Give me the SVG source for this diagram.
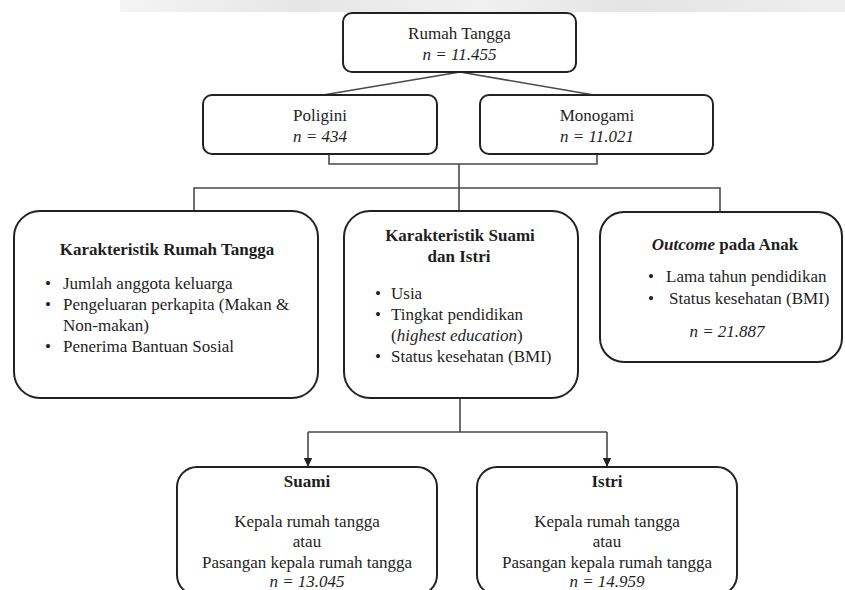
<svg xmlns="http://www.w3.org/2000/svg" width="845" height="590" viewBox="0 0 845 590">
<defs>
  <linearGradient id="strip" x1="0" y1="0" x2="1" y2="0">
    <stop offset="0" stop-color="#f4f4f4"/>
    <stop offset="0.25" stop-color="#e6e6e6"/>
    <stop offset="0.5" stop-color="#f0f0f0"/>
    <stop offset="0.7" stop-color="#e4e4e4"/>
    <stop offset="1" stop-color="#eeeeee"/>
  </linearGradient>
  <marker id="arrow" markerWidth="10" markerHeight="10" refX="9" refY="5" orient="auto" markerUnits="userSpaceOnUse">
    <path d="M0,0.8 L9,5 L0,9.2 Z" fill="#222222"/>
  </marker>
</defs>
<rect x="0" y="0" width="845" height="590" fill="#ffffff"/>
<rect x="120" y="0" width="725" height="12" fill="url(#strip)"/>

<g id="connectors" fill="none" stroke="#4a4a4a" stroke-width="1.6">
  <path d="M460,72 L323,95"/>
  <path d="M460,72 L594,95"/>
  <path d="M329,154 L329,164 L597,164 L597,154"/>
  <path d="M459,164 L459,211"/>
  <path d="M194,211 L194,188 L720,188 L720,211"/>
  <path d="M460,398 L460,432"/>
  <path d="M308,432 L607,432"/>
  <path d="M308,432 L308,467" marker-end="url(#arrow)"/>
  <path d="M607,432 L607,467" marker-end="url(#arrow)"/>
</g>

<g id="rumah-tangga" fill="#1e1e1e" font-family="Liberation Serif" font-size="17">
  <rect x="343" y="13" width="233" height="59" rx="9" fill="#ffffff" stroke="#222222" stroke-width="2"/>
  <text font-family="Liberation Serif" text-anchor="middle" x="459.5" y="38.5">Rumah Tangga</text>
  <text font-family="Liberation Serif" text-anchor="middle" font-style="italic" x="459.5" y="60">n = 11.455</text>
</g>

<g id="poligini" fill="#1e1e1e" font-family="Liberation Serif" font-size="17">
  <rect x="203" y="95" width="234" height="59" rx="9" fill="#ffffff" stroke="#222222" stroke-width="2"/>
  <text font-family="Liberation Serif" text-anchor="middle" x="320" y="121">Poligini</text>
  <text font-family="Liberation Serif" text-anchor="middle" font-style="italic" x="320" y="142">n = 434</text>
</g>

<g id="monogami" fill="#1e1e1e" font-family="Liberation Serif" font-size="17">
  <rect x="480" y="95" width="233" height="59" rx="9" fill="#ffffff" stroke="#222222" stroke-width="2"/>
  <text font-family="Liberation Serif" text-anchor="middle" x="597" y="121">Monogami</text>
  <text font-family="Liberation Serif" text-anchor="middle" font-style="italic" x="597" y="142">n = 11.021</text>
</g>

<g id="karakteristik-rumah-tangga" fill="#1e1e1e" font-family="Liberation Serif" font-size="17">
  <rect x="14" y="211" width="304" height="187" rx="26" fill="#ffffff" stroke="#222222" stroke-width="2"/>
  <text font-family="Liberation Serif" text-anchor="middle" font-weight="bold" x="167" y="255">Karakteristik Rumah Tangga</text>
  <text font-family="Liberation Serif" x="45" y="289">•</text>
  <text font-family="Liberation Serif" x="63" y="289">Jumlah anggota keluarga</text>
  <text font-family="Liberation Serif" x="45" y="310">•</text>
  <text font-family="Liberation Serif" x="63" y="310">Pengeluaran perkapita (Makan &amp;</text>
  <text font-family="Liberation Serif" x="63" y="331">Non-makan)</text>
  <text font-family="Liberation Serif" x="45" y="352">•</text>
  <text font-family="Liberation Serif" x="63" y="352">Penerima Bantuan Sosial</text>
</g>

<g id="karakteristik-suami-istri" fill="#1e1e1e" font-family="Liberation Serif" font-size="17">
  <rect x="344" y="211" width="234" height="187" rx="26" fill="#ffffff" stroke="#222222" stroke-width="2"/>
  <text font-family="Liberation Serif" text-anchor="middle" font-weight="bold" x="460" y="241">Karakteristik Suami</text>
  <text font-family="Liberation Serif" text-anchor="middle" font-weight="bold" x="459" y="262">dan Istri</text>
  <text font-family="Liberation Serif" x="375" y="299">•</text>
  <text font-family="Liberation Serif" x="391" y="299">Usia</text>
  <text font-family="Liberation Serif" x="375" y="320">•</text>
  <text font-family="Liberation Serif" x="391" y="320">Tingkat pendidikan</text>
  <text font-family="Liberation Serif" x="391" y="341">(<tspan font-style="italic">highest education</tspan>)</text>
  <text font-family="Liberation Serif" x="375" y="362">•</text>
  <text font-family="Liberation Serif" x="391" y="362">Status kesehatan (BMI)</text>
</g>

<g id="outcome-anak" fill="#1e1e1e" font-family="Liberation Serif" font-size="17">
  <rect x="600" y="212" width="242" height="150" rx="24" fill="#ffffff" stroke="#222222" stroke-width="2"/>
  <text font-family="Liberation Serif" text-anchor="middle" font-weight="bold" x="725" y="250"><tspan font-style="italic">Outcome</tspan> pada Anak</text>
  <text font-family="Liberation Serif" x="648" y="282">•</text>
  <text font-family="Liberation Serif" x="666" y="282">Lama tahun pendidikan</text>
  <text font-family="Liberation Serif" x="648" y="304">•</text>
  <text font-family="Liberation Serif" x="669" y="304">Status kesehatan (BMI)</text>
  <text font-family="Liberation Serif" text-anchor="middle" font-style="italic" x="727" y="337">n = 21.887</text>
</g>

<g id="suami" fill="#1e1e1e" font-family="Liberation Serif" font-size="17">
  <rect x="177" y="467" width="260" height="128" rx="20" fill="#ffffff" stroke="#222222" stroke-width="2"/>
  <text font-family="Liberation Serif" text-anchor="middle" font-weight="bold" x="307" y="487">Suami</text>
  <text font-family="Liberation Serif" text-anchor="middle" x="307" y="527">Kepala rumah tangga</text>
  <text font-family="Liberation Serif" text-anchor="middle" x="307" y="547">atau</text>
  <text font-family="Liberation Serif" text-anchor="middle" x="307" y="567.5">Pasangan kepala rumah tangga</text>
  <text font-family="Liberation Serif" text-anchor="middle" font-style="italic" x="307" y="587">n = 13.045</text>
</g>

<g id="istri" fill="#1e1e1e" font-family="Liberation Serif" font-size="17">
  <rect x="477" y="467" width="260" height="128" rx="20" fill="#ffffff" stroke="#222222" stroke-width="2"/>
  <text font-family="Liberation Serif" text-anchor="middle" font-weight="bold" x="607" y="487">Istri</text>
  <text font-family="Liberation Serif" text-anchor="middle" x="607" y="527">Kepala rumah tangga</text>
  <text font-family="Liberation Serif" text-anchor="middle" x="607" y="547">atau</text>
  <text font-family="Liberation Serif" text-anchor="middle" x="607" y="567.5">Pasangan kepala rumah tangga</text>
  <text font-family="Liberation Serif" text-anchor="middle" font-style="italic" x="607" y="587">n = 14.959</text>
</g>
</svg>
